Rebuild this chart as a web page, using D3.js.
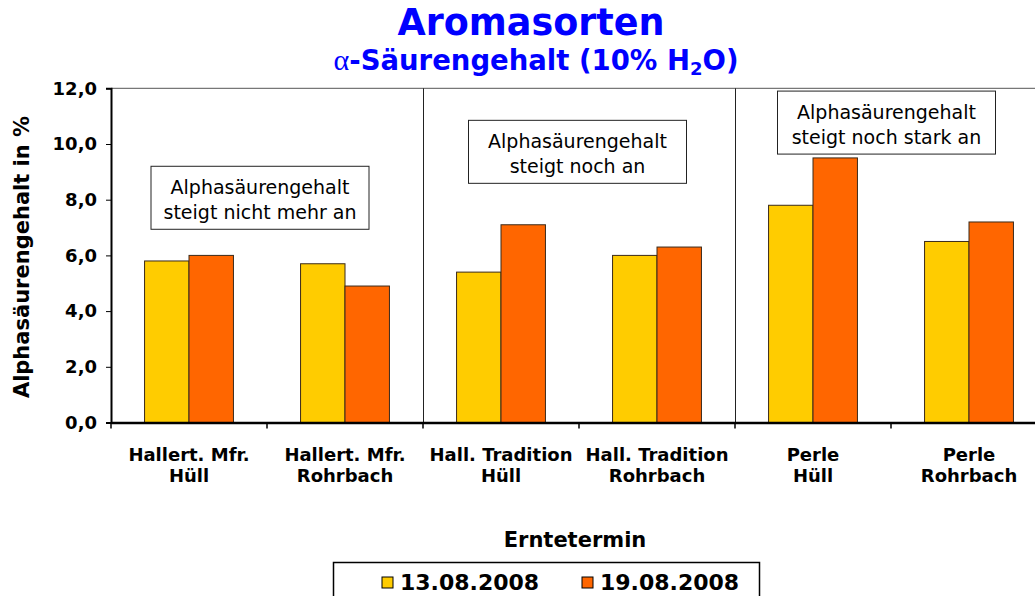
<!DOCTYPE html>
<html>
<head>
<meta charset="utf-8">
<script src="https://cdn.jsdelivr.net/npm/d3@7"></script>
<style>
  body { margin: 0; background: #fff; }
  svg { display: block; }
  text { font-family: "DejaVu Sans", Verdana, sans-serif; }
</style>
</head>
<body>
<script>
// data
const categories = [
  ["Hallert. Mfr.", "Hüll"],
  ["Hallert. Mfr.", "Rohrbach"],
  ["Hall. Tradition", "Hüll"],
  ["Hall. Tradition", "Rohrbach"],
  ["Perle", "Hüll"],
  ["Perle", "Rohrbach"]
];
const seriesNames = ["13.08.2008", "19.08.2008"];
const seriesColors = ["#FFCC00", "#FF6600"];
const values1308 = [5.8, 5.7, 5.4, 6.0, 7.8, 6.5];
const values1908 = [6.0, 4.9, 7.1, 6.3, 9.5, 7.2];
const yTicks = [0, 2, 4, 6, 8, 10, 12];
const notes = [
  ["Alphasäurengehalt", "steigt nicht mehr an"],
  ["Alphasäurengehalt", "steigt noch an"],
  ["Alphasäurengehalt", "steigt noch stark an"]
];

const W = 1035, H = 596;
const svg = d3.select("body").append("svg").attr("width", W).attr("height", H);

const keys = categories.map((c, i) => "c" + i);
const x0 = d3.scaleBand().domain(keys).range([111, 1047]).padding(0);
const x1 = d3.scaleBand().domain(seriesNames).range([0, x0.bandwidth()]).paddingOuter(0.755).paddingInner(0);
const y = d3.scaleLinear().domain([0, 12]).range([422.5, 88.3]);

const rows = keys.map((k, i) => ({key: k, vals: [values1308[i], values1908[i]]}));

// plot frame top
svg.append("line")
  .attr("x1", 111).attr("x2", W).attr("y1", y(12)).attr("y2", y(12))
  .attr("stroke", "#555").attr("stroke-width", 1);

// separators between variety groups
[2, 4].forEach(i => {
  svg.append("line")
    .attr("x1", x0(keys[i]) + 0.5).attr("x2", x0(keys[i]) + 0.5)
    .attr("y1", y(12)).attr("y2", y(0))
    .attr("stroke", "#222").attr("stroke-width", 1);
});

// bars
const g = svg.append("g");
g.selectAll("g.cat").data(rows).join("g")
  .attr("class", "cat")
  .attr("transform", d => "translate(" + x0(d.key) + ",0)")
  .selectAll("rect")
  .data(d => d.vals.map((v, j) => ({v: v, s: seriesNames[j], c: seriesColors[j]})))
  .join("rect")
  .attr("x", d => x1(d.s))
  .attr("width", x1.bandwidth())
  .attr("y", d => y(d.v))
  .attr("height", d => y(0) - y(d.v))
  .attr("fill", d => d.c)
  .attr("stroke", "#3a2a1a")
  .attr("stroke-width", 1);

// y axis
const yAxis = svg.append("g")
  .attr("transform", "translate(111,0)")
  .call(d3.axisLeft(y).tickValues(yTicks).tickSize(5).tickPadding(9)
    .tickFormat(d => d3.format(".1f")(d).replace(".", ",")));
yAxis.select(".domain").attr("stroke", "#000").attr("stroke-width", 2);
yAxis.selectAll(".tick line").attr("stroke", "#000");
yAxis.selectAll("text").attr("font-size", 18).attr("font-weight", "bold").attr("fill", "#000");

// x axis
const xAxis = svg.append("g")
  .attr("transform", "translate(0," + y(0) + ")")
  .call(d3.axisBottom(x0).tickSize(0).tickFormat(""));
xAxis.select(".domain").attr("stroke", "#000").attr("stroke-width", 2.5);
xAxis.selectAll(".tick").remove();
// boundary tick marks
keys.forEach(k => {
  xAxis.append("line").attr("x1", x0(k)).attr("x2", x0(k))
    .attr("y1", 0).attr("y2", 6).attr("stroke", "#000").attr("stroke-width", 1.5);
});
// category labels
categories.forEach((c, i) => {
  const cx = x0(keys[i]) + x0.bandwidth() / 2;
  c.forEach((line, j) => {
    svg.append("text")
      .attr("x", cx).attr("y", 461 + j * 21)
      .attr("text-anchor", "middle")
      .attr("font-size", 18).attr("font-weight", "bold")
      .text(line);
  });
});

// axis titles
svg.append("text")
  .attr("transform", "translate(29,257) rotate(-90)")
  .attr("text-anchor", "middle")
  .attr("font-size", 21).attr("font-weight", "bold")
  .text("Alphasäurengehalt in %");

svg.append("text")
  .attr("x", 575).attr("y", 547)
  .attr("text-anchor", "middle")
  .attr("font-size", 21).attr("font-weight", "bold")
  .text("Erntetermin");

// titles
svg.append("text")
  .attr("x", 531).attr("y", 35)
  .attr("text-anchor", "middle")
  .attr("font-size", 36.5).attr("font-weight", "bold").attr("fill", "#0000FF")
  .text("Aromasorten");

const sub = svg.append("text")
  .attr("x", 536).attr("y", 70)
  .attr("text-anchor", "middle")
  .attr("font-size", 27.5).attr("font-weight", "bold").attr("fill", "#0000FF");
sub.append("tspan").attr("font-weight", "normal").attr("font-family", "Liberation Serif, serif").attr("font-size", 30).text("α");
sub.append("tspan").text("-Säurengehalt (10% H");
sub.append("tspan").attr("font-size", 18).attr("dy", 5).text("2");
sub.append("tspan").attr("dy", -5).text("O)");

// annotation boxes, anchored between the two bar pairs of each variety
const noteAnchors = [
  {cx: x0(keys[1]) - 7, top: 9.2},
  {cx: x0(keys[3]) - 1.5, top: 10.85},
  {cx: x0(keys[5]) - 4.5, top: 11.9}
];
const boxW = 218, boxH = 63;
notes.forEach((lines, i) => {
  const a = noteAnchors[i];
  const bx = a.cx - boxW / 2, by = y(a.top);
  svg.append("rect")
    .attr("x", bx).attr("y", by).attr("width", boxW).attr("height", boxH)
    .attr("fill", "#fff").attr("stroke", "#222").attr("stroke-width", 1);
  lines.forEach((line, j) => {
    svg.append("text")
      .attr("x", a.cx).attr("y", by + 27.5 + j * 25)
      .attr("text-anchor", "middle")
      .attr("font-size", 19)
      .text(line);
  });
});

// legend
const leg = svg.append("g");
leg.append("rect")
  .attr("x", 333.5).attr("y", 562.5).attr("width", 426).attr("height", 50)
  .attr("fill", "#fff").attr("stroke", "#000").attr("stroke-width", 1.5);
const legX = [382, 582];
seriesNames.forEach((s, i) => {
  leg.append("rect")
    .attr("x", legX[i]).attr("y", 577).attr("width", 11).attr("height", 11)
    .attr("fill", seriesColors[i]).attr("stroke", "#000").attr("stroke-width", 1);
  leg.append("text")
    .attr("x", legX[i] + 18).attr("y", 590)
    .attr("font-size", 22).attr("font-weight", "bold")
    .text(s);
});
</script>
</body>
</html>
